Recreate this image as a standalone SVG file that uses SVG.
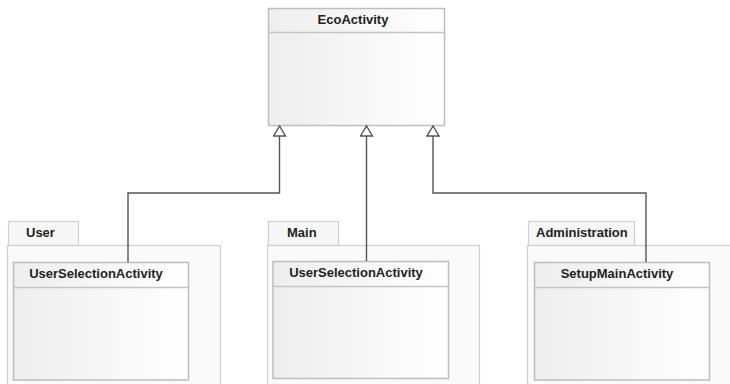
<svg xmlns="http://www.w3.org/2000/svg" width="730" height="384" viewBox="0 0 730 384">
  <defs>
    <linearGradient id="classFill" x1="0" y1="0" x2="1" y2="0">
      <stop offset="0" stop-color="#eeeeee"/>
      <stop offset="1" stop-color="#ffffff"/>
    </linearGradient>
    <!-- hollow generalization head, tip at the path end -->
    <marker id="inherit" viewBox="0 0 12 14" refX="11" refY="7" markerWidth="12" markerHeight="14" markerUnits="userSpaceOnUse" orient="auto">
      <path d="M11,7 L1,1 L1,13 Z" fill="#ffffff" stroke="#555555" stroke-width="1.4" stroke-linejoin="miter"/>
    </marker>
  </defs>
  <style>
    .cls { fill: url(#classFill); stroke: #bdbdbd; stroke-width: 1.5; }
    .div { stroke: #c4c4c4; stroke-width: 1.5; }
    .pkg { fill: #fafafa; stroke: #d0d0d0; stroke-width: 1.2; }
    .tab { fill: #f7f7f7; stroke: #d0d0d0; stroke-width: 1.2; }
    .lbl { font-family: "Liberation Sans", Arial, sans-serif; font-weight: bold; font-size: 13px; fill: #222222; }
    .edge { fill: none; stroke: #555555; stroke-width: 1.4; }
  </style>
  <rect x="0" y="0" width="730" height="384" fill="#ffffff"/>

  <!-- superclass -->
  <g id="EcoActivity">
    <rect class="cls" x="268.5" y="8.5" width="176" height="117"/>
    <line class="div" x1="268.5" y1="32.5" x2="444.5" y2="32.5"/>
    <text class="lbl" x="353" y="24" text-anchor="middle">EcoActivity</text>
  </g>

  <!-- package User -->
  <g id="pkg-User">
    <rect class="tab" x="8.5" y="221.5" width="70" height="24"/>
    <rect class="pkg" x="7.5" y="245.5" width="213" height="150"/>
    <text class="lbl" x="26" y="237">User</text>
  </g>
  <g id="User-UserSelectionActivity">
    <rect class="cls" x="13.5" y="262.5" width="175" height="117.5"/>
    <line class="div" x1="13.5" y1="287.5" x2="188.5" y2="287.5"/>
    <text class="lbl" x="96" y="278" text-anchor="middle">UserSelectionActivity</text>
  </g>

  <!-- package Main -->
  <g id="pkg-Main">
    <rect class="tab" x="268.5" y="221.5" width="70" height="24"/>
    <rect class="pkg" x="267.5" y="245.5" width="212" height="150"/>
    <text class="lbl" x="287" y="237">Main</text>
  </g>
  <g id="Main-UserSelectionActivity">
    <rect class="cls" x="273" y="261.5" width="175.5" height="117"/>
    <line class="div" x1="273" y1="286.5" x2="448.5" y2="286.5"/>
    <text class="lbl" x="356" y="277" text-anchor="middle">UserSelectionActivity</text>
  </g>

  <!-- package Administration -->
  <g id="pkg-Administration">
    <rect class="tab" x="528.5" y="221.5" width="106" height="24"/>
    <rect class="pkg" x="527.5" y="245.5" width="220" height="150"/>
    <text class="lbl" x="536" y="237">Administration</text>
  </g>
  <g id="Administration-SetupMainActivity">
    <rect class="cls" x="534.5" y="262.5" width="175" height="117.5"/>
    <line class="div" x1="534.5" y1="287.5" x2="709.5" y2="287.5"/>
    <text class="lbl" x="617" y="278" text-anchor="middle">SetupMainActivity</text>
  </g>

  <!-- generalization connectors -->
  <g id="connectors">
    <path class="edge" d="M128,262 V193 H279.5 V126" marker-end="url(#inherit)"/>
    <path class="edge" d="M366.5,261 V126" marker-end="url(#inherit)"/>
    <path class="edge" d="M646,262 V193 H433 V126" marker-end="url(#inherit)"/>
  </g>
</svg>
